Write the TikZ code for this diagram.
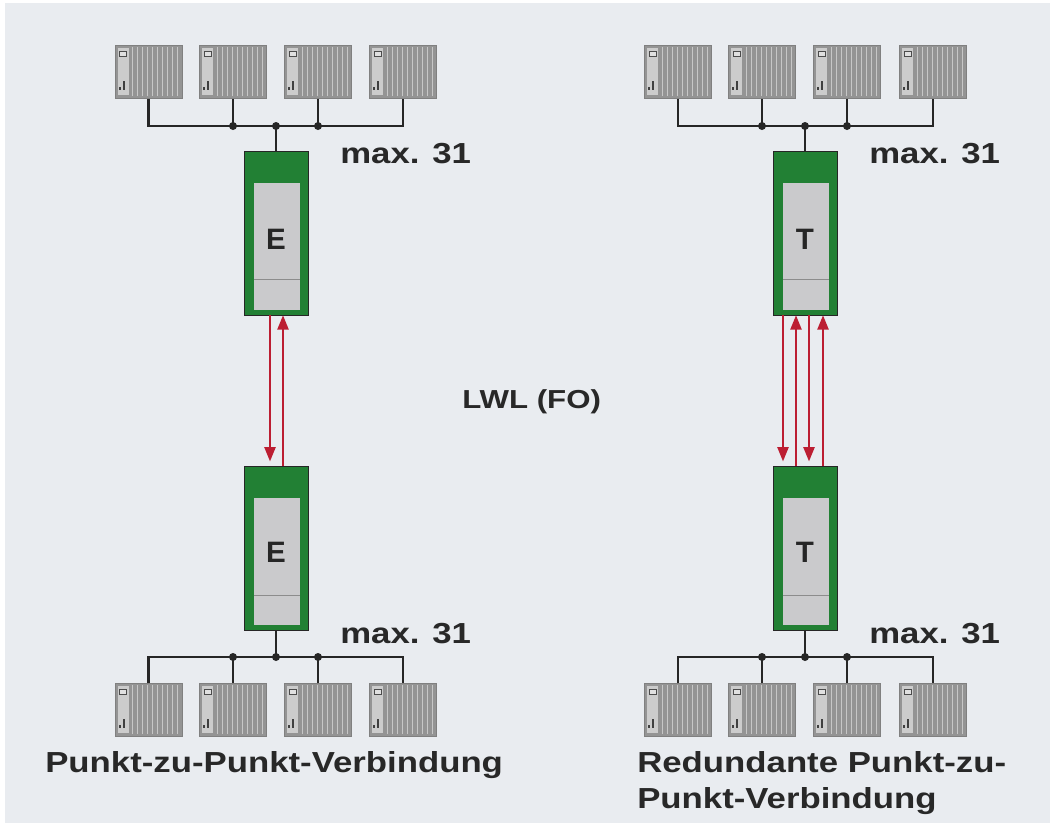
\documentclass[tikz,border=0pt]{standalone}
\usepackage{fontspec}
\newfontfamily\diagfont{Liberation Sans}[FakeStretch=1.2]
\newfontfamily\lblfont{Liberation Sans}
\usetikzlibrary{arrows.meta,positioning}

\definecolor{bgcol}{RGB}{233,236,240}
\definecolor{modgreen}{RGB}{34,128,52}
\definecolor{modgray}{RGB}{202,202,204}
\definecolor{fored}{RGB}{188,30,50}
\definecolor{txtcol}{RGB}{40,40,40}

% inner parts of a PLC rack, drawn over the node #1
\newcommand{\plcdetails}[1]{%
  \begin{scope}[shift={(#1.north west)}]
    \fill[black!20] (3,3) rectangle (14,50);
    \draw[black!70, fill=black!12] (5,6) rectangle (12,11);
    \fill[black!75] (4,42) rectangle (6,45);
    \fill[black!75] (8,36) rectangle (10,45);
    \foreach \i in {18,23,...,64}
      \draw[black!22, line width=0.7pt] (\i,2) -- (\i,51);
  \end{scope}}

% gray panel of a converter module, drawn over the node #1
\newcommand{\convdetails}[1]{%
  \begin{scope}[shift={(#1.north west)}]
    \fill[modgray] (10,32) rectangle (56,159);
    \draw[black!45, line width=0.8pt] (10,129) -- (56,129);
  \end{scope}}

\begin{document}
\begin{tikzpicture}[x=0.025cm,y=-0.025cm,
    >={Triangle[length=0.36cm,width=0.28cm]},
    plc/.style={rectangle,
          draw = black!50,
          fill = black!42,
          minimum width = 1.675cm,
          minimum height = 1.325cm,
          inner sep = 0pt},
    conv/.style={rectangle,
          draw = black!85,
          fill = modgreen,
          minimum width = 1.6cm,
          minimum height = 4.1cm,
          inner sep = 0pt},
    modlbl/.style={font=\lblfont\fontsize{21}{24}\selectfont\bfseries, text=black!85},
    txt/.style={font=\diagfont\fontsize{20.6}{24}\selectfont\bfseries, text=txtcol,
          inner sep=0pt, anchor=base west},
    bus/.style={draw=black!85, line width=1.8pt},
    fo/.style={draw=fored, line width=1.4pt}
    ]

    % background
    \fill[white] (0,0) rectangle (1050,823);
    \fill[bgcol] (5,3) rectangle (1050,823);

    % left: Punkt-zu-Punkt
    \node[plc] (plcL1) at (148.5,72) {};
    \node[plc] (plcL2) at (233,72) {};
    \node[plc] (plcL3) at (318,72) {};
    \node[plc] (plcL4) at (403,72) {};

    \node[conv] (convL1) at (276,233) {};
    \node[conv] (convL2) at (276,548.5) {};

    \node[plc] (plcL5) at (148.5,710) {};
    \node[plc] (plcL6) at (233,710) {};
    \node[plc] (plcL7) at (318,710) {};
    \node[plc] (plcL8) at (403,710) {};

    % right: redundant
    \node[plc] (plcR1) at (678,72) {};
    \node[plc] (plcR2) at (762,72) {};
    \node[plc] (plcR3) at (847,72) {};
    \node[plc] (plcR4) at (933,72) {};

    \node[conv] (convR1) at (805,233) {};
    \node[conv] (convR2) at (805,548.5) {};

    \node[plc] (plcR5) at (678,710) {};
    \node[plc] (plcR6) at (762,710) {};
    \node[plc] (plcR7) at (847,710) {};
    \node[plc] (plcR8) at (933,710) {};

    \foreach \n in {plcL1,plcL2,plcL3,plcL4,plcL5,plcL6,plcL7,plcL8,
                    plcR1,plcR2,plcR3,plcR4,plcR5,plcR6,plcR7,plcR8}
      {\plcdetails{\n}}
    \foreach \n in {convL1,convL2,convR1,convR2}
      {\convdetails{\n}}

    \node[modlbl] at ([yshift=-0.17cm]convL1.center) {E};
    \node[modlbl] at ([yshift=-0.1cm]convL2.center) {E};
    \node[modlbl] at ([yshift=-0.17cm]convR1.center) {T};
    \node[modlbl] at ([yshift=-0.1cm]convR2.center) {T};

    % buses, left
    \coordinate (busL1) at (276,126);
    \coordinate (busL2) at (276,657);

    \draw[bus] (plcL1.south) |- (busL1) -| (plcL4.south);
    \draw[bus] (plcL2.south) -- (plcL2.south |- busL1);
    \draw[bus] (plcL3.south) -- (plcL3.south |- busL1);
    \draw[bus] (busL1) -- (convL1.north);
    \fill[black!85] (busL1) circle (0.1cm)
        (plcL2.south |- busL1) circle (0.1cm)
        (plcL3.south |- busL1) circle (0.1cm);

    \draw[bus] (plcL5.north) |- (busL2) -| (plcL8.north);
    \draw[bus] (plcL6.north) -- (plcL6.north |- busL2);
    \draw[bus] (plcL7.north) -- (plcL7.north |- busL2);
    \draw[bus] (busL2) -- (convL2.south);
    \fill[black!85] (busL2) circle (0.1cm)
        (plcL6.north |- busL2) circle (0.1cm)
        (plcL7.north |- busL2) circle (0.1cm);

    % buses, right
    \coordinate (busR1) at (805,126);
    \coordinate (busR2) at (805,657);

    \draw[bus] (plcR1.south) |- (busR1) -| (plcR4.south);
    \draw[bus] (plcR2.south) -- (plcR2.south |- busR1);
    \draw[bus] (plcR3.south) -- (plcR3.south |- busR1);
    \draw[bus] (busR1) -- (convR1.north);
    \fill[black!85] (busR1) circle (0.1cm)
        (plcR2.south |- busR1) circle (0.1cm)
        (plcR3.south |- busR1) circle (0.1cm);

    \draw[bus] (plcR5.north) |- (busR2) -| (plcR8.north);
    \draw[bus] (plcR6.north) -- (plcR6.north |- busR2);
    \draw[bus] (plcR7.north) -- (plcR7.north |- busR2);
    \draw[bus] (busR2) -- (convR2.south);
    \fill[black!85] (busR2) circle (0.1cm)
        (plcR6.north |- busR2) circle (0.1cm)
        (plcR7.north |- busR2) circle (0.1cm);

    % fibre
    \draw[fo,->] ([xshift=-0.15cm]convL1.south) -- ([xshift=-0.15cm,yshift=0.12cm]convL2.north);
    \draw[fo,->] ([xshift=0.175cm]convL2.north) -- ([xshift=0.175cm]convL1.south);

    \draw[fo,->] ([xshift=-0.55cm]convR1.south) -- ([xshift=-0.55cm,yshift=0.12cm]convR2.north);
    \draw[fo,->] ([xshift=-0.225cm]convR2.north) -- ([xshift=-0.225cm]convR1.south);
    \draw[fo,->] ([xshift=0.1cm]convR1.south) -- ([xshift=0.1cm,yshift=0.12cm]convR2.north);
    \draw[fo,->] ([xshift=0.45cm]convR2.north) -- ([xshift=0.45cm]convR1.south);

    % texts
    \node[txt] (maxL1) at (340,163) {max. 31};
    \node[txt] (maxL2) at (340,643) {max. 31};
    \node[txt] (maxR1) at (869,163) {max. 31};
    \node[txt] (maxR2) at (869,643) {max. 31};
    \node[txt, font=\diagfont\fontsize{18.5}{22}\selectfont\bfseries] (lwl) at (462,408) {LWL (FO)};
    \node[txt] (ptp) at (45,772) {Punkt-zu-Punkt-Verbindung};
    \node[txt] (red1) at (637,772) {Redundante Punkt-zu-};
    \node[txt] (red2) at ([yshift=-0.9cm]red1.base west) {Punkt-Verbindung};

\end{tikzpicture}
\end{document}
